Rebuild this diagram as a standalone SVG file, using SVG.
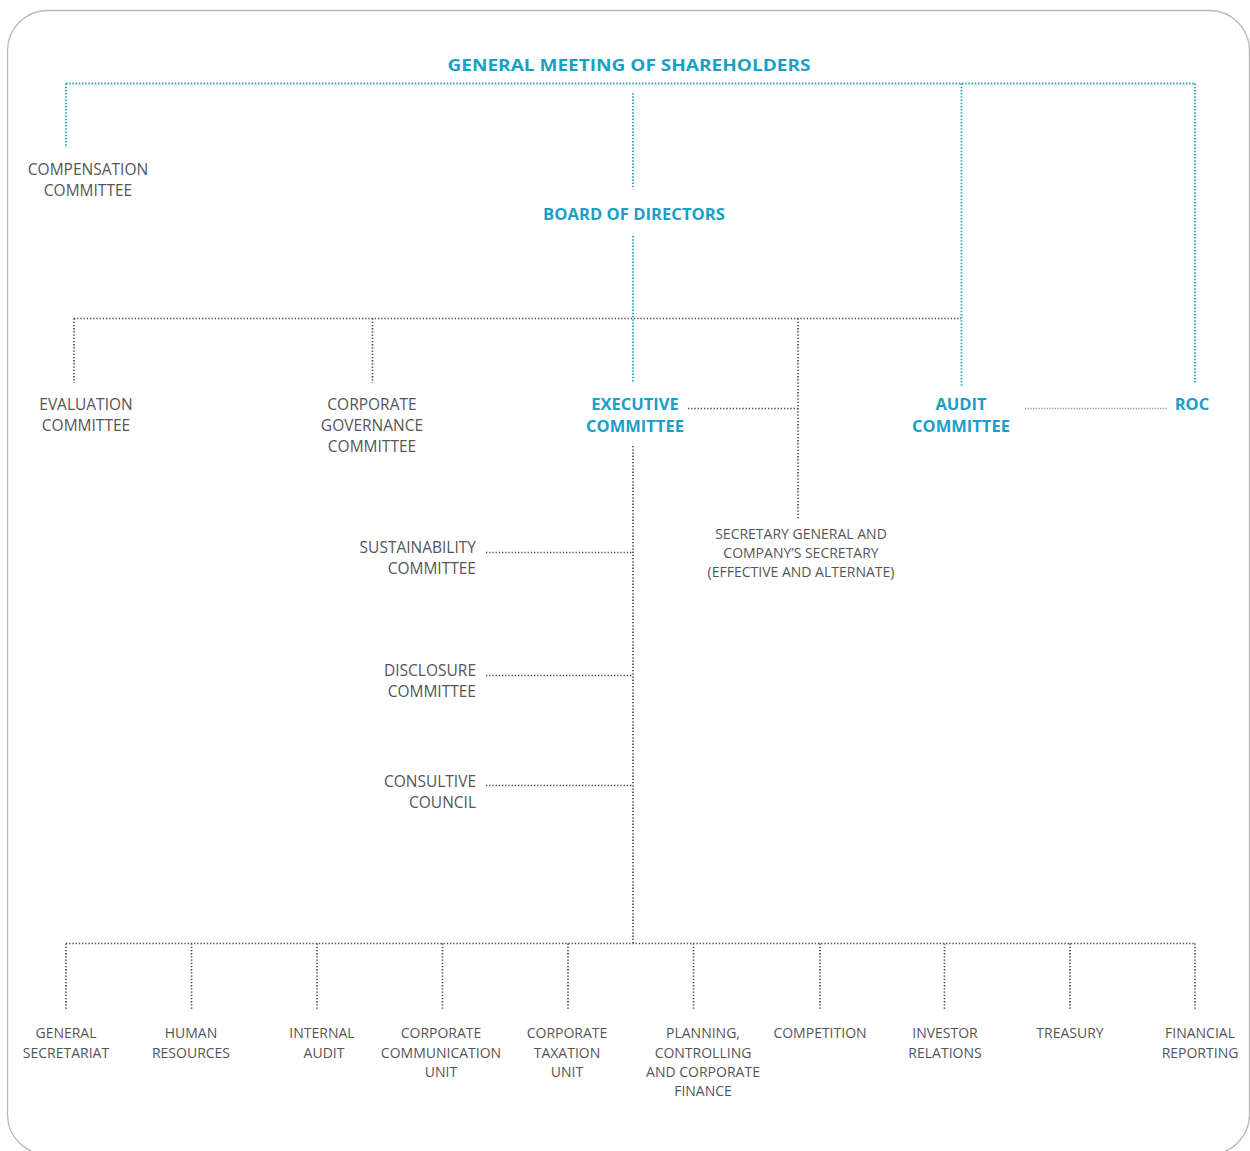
<svg xmlns="http://www.w3.org/2000/svg" width="1250" height="1151" viewBox="0 0 1250 1151">
<style>
.frame{fill:#fff;stroke:#b9b9b9;stroke-width:1.3}
.c{fill:none;stroke:#1fa3c6;stroke-width:1.8;stroke-dasharray:1.5 1.7}
.g{fill:none;stroke:#4a4a4a;stroke-width:1.7;stroke-dasharray:1.3 1.9}
.l{fill:none;stroke:#9a9a9a;stroke-width:1.4;stroke-dasharray:1.3 1.4}
.t{font-family:"Open Sans","Noto Sans","Liberation Sans",sans-serif;fill:#555557;font-size:15.5px;text-anchor:middle}
.s{font-family:"Open Sans","Noto Sans","Liberation Sans",sans-serif;fill:#555557;font-size:14px;text-anchor:middle}
.r{text-anchor:end}
.b{font-family:"Open Sans","Noto Sans","Liberation Sans",sans-serif;fill:#1aa0c6;font-weight:bold;font-size:16.5px;text-anchor:middle}
</style>
<rect class="frame" x="7.5" y="10.5" width="1242" height="1144" rx="40"/>
<g id="connectors">
<path class="c" d="M66 83.5H1195M66 83.5V148M633 93V187M961.5 83.5V387M1195 83.5V384M633 236V383"/>
<path class="g" d="M74 318.5H961M74 318.5V383M372.5 318.5V383M798 318.5V520M688 408.5H798M633 446V943M486 552.5H633M486 675.5H633M486 785.5H633"/>
<path class="l" d="M1025 408.5H1168"/>
<path class="g" d="M66 943.5H1195M66 943.5V1010M191.5 943.5V1010M317 943.5V1010M442.5 943.5V1010M568 943.5V1010M693.5 943.5V1010M820 943.5V1010M944.5 943.5V1010M1070 943.5V1010M1195 943.5V1010"/>
</g>
<g id="gms"><text class="b" x="629" y="71" font-size="20" textLength="363" lengthAdjust="spacingAndGlyphs">GENERAL MEETING OF SHAREHOLDERS</text></g>
<g id="board"><text class="b" x="634" y="220" textLength="182" lengthAdjust="spacingAndGlyphs">BOARD OF DIRECTORS</text></g>
<g id="compensation"><text class="t" x="88" y="175">COMPENSATION</text><text class="t" x="88" y="196">COMMITTEE</text></g>
<g id="evaluation"><text class="t" x="86" y="410">EVALUATION</text><text class="t" x="86" y="431">COMMITTEE</text></g>
<g id="governance"><text class="t" x="372" y="410">CORPORATE</text><text class="t" x="372" y="431">GOVERNANCE</text><text class="t" x="372" y="452">COMMITTEE</text></g>
<g id="executive"><text class="b" x="635" y="410">EXECUTIVE</text><text class="b" x="635" y="432">COMMITTEE</text></g>
<g id="audit"><text class="b" x="961" y="410">AUDIT</text><text class="b" x="961" y="432">COMMITTEE</text></g>
<g id="roc"><text class="b" x="1192" y="410">ROC</text></g>
<g id="secretary"><text class="s" x="801" y="539">SECRETARY GENERAL AND</text><text class="s" x="801" y="558">COMPANY’S SECRETARY</text><text class="s" x="801" y="577">(EFFECTIVE AND ALTERNATE)</text></g>
<g id="sustainability"><text class="t r" x="476" y="553">SUSTAINABILITY</text><text class="t r" x="476" y="574">COMMITTEE</text></g>
<g id="disclosure"><text class="t r" x="476" y="676">DISCLOSURE</text><text class="t r" x="476" y="697">COMMITTEE</text></g>
<g id="consultive"><text class="t r" x="476" y="787">CONSULTIVE</text><text class="t r" x="476" y="808">COUNCIL</text></g>
<g id="general-secretariat"><text class="s" x="66" y="1038">GENERAL</text><text class="s" x="66" y="1058">SECRETARIAT</text></g>
<g id="human-resources"><text class="s" x="191" y="1038">HUMAN</text><text class="s" x="191" y="1058">RESOURCES</text></g>
<g id="internal-audit"><text class="s" x="322" y="1038">INTERNAL</text><text class="s" x="324" y="1058">AUDIT</text></g>
<g id="communication"><text class="s" x="441" y="1038">CORPORATE</text><text class="s" x="441" y="1058">COMMUNICATION</text><text class="s" x="441" y="1077">UNIT</text></g>
<g id="taxation"><text class="s" x="567" y="1038">CORPORATE</text><text class="s" x="567" y="1058">TAXATION</text><text class="s" x="567" y="1077">UNIT</text></g>
<g id="planning"><text class="s" x="703" y="1038">PLANNING,</text><text class="s" x="703" y="1058">CONTROLLING</text><text class="s" x="703" y="1077">AND CORPORATE</text><text class="s" x="703" y="1096">FINANCE</text></g>
<g id="competition"><text class="s" x="820" y="1038">COMPETITION</text></g>
<g id="investor"><text class="s" x="945" y="1038">INVESTOR</text><text class="s" x="945" y="1058">RELATIONS</text></g>
<g id="treasury"><text class="s" x="1070" y="1038">TREASURY</text></g>
<g id="financial-reporting"><text class="s" x="1200" y="1038">FINANCIAL</text><text class="s" x="1200" y="1058">REPORTING</text></g>
</svg>
